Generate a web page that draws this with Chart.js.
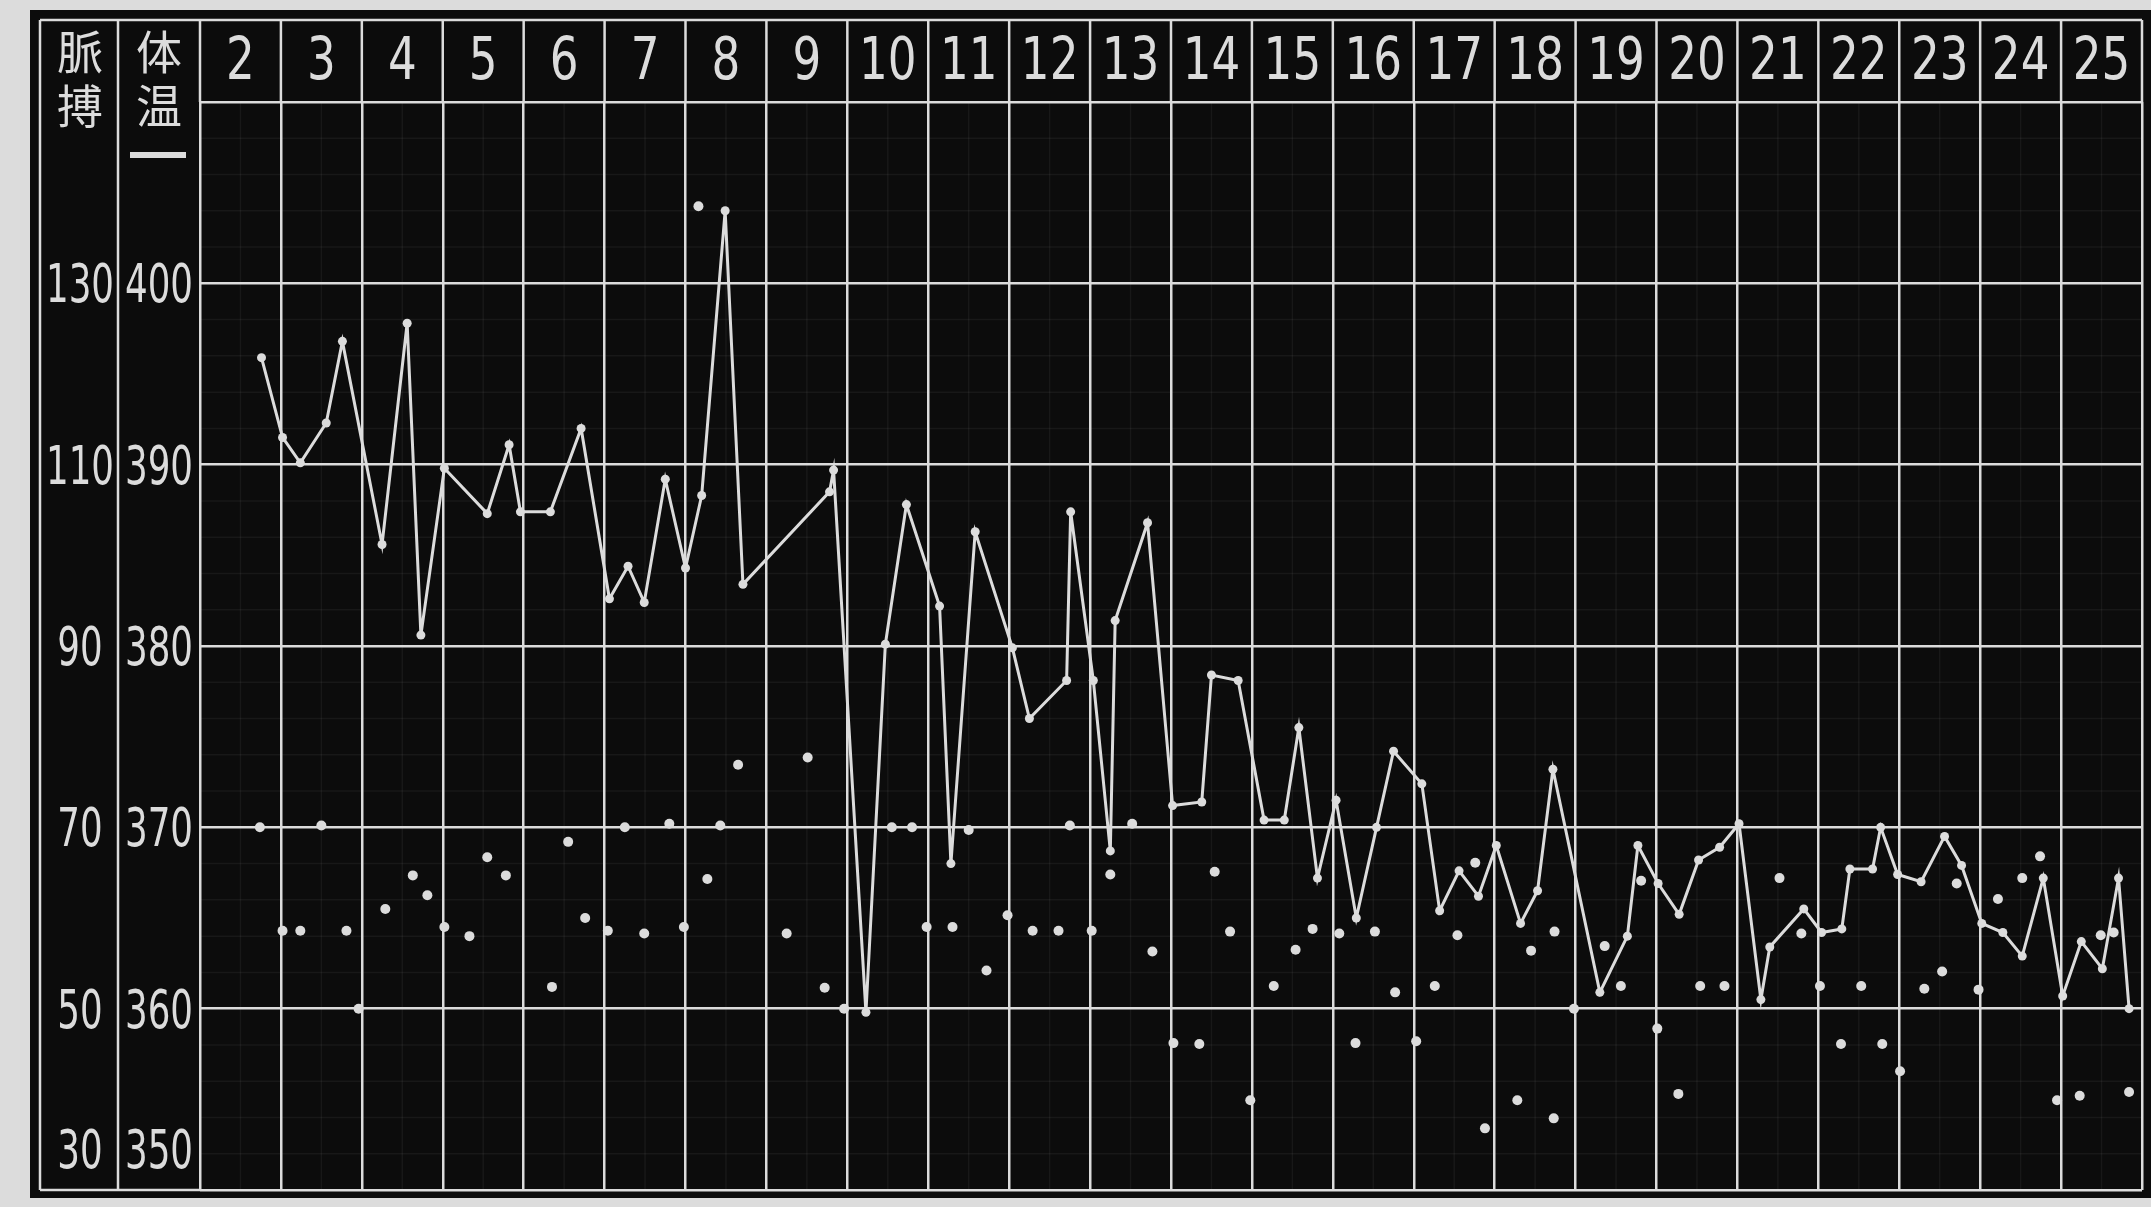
<!DOCTYPE html>
<html>
<head>
<meta charset="utf-8">
<script src="https://cdn.jsdelivr.net/npm/chart.js@4.4.1/dist/chart.umd.min.js"></script>
<style>
  html, body { margin: 0; padding: 0; background: #dcdcdc; }
  #wrap { width: 2151px; height: 1207px; }
</style>
</head>
<body>
<div id="wrap"><canvas id="fever" width="2151" height="1207"></canvas></div>
<script>
// day columns shown in the header
let days = [2, 3, 4, 5, 6, 7, 8, 9, 10, 11, 12, 13, 14, 15, 16, 17, 18, 19, 20, 21, 22, 23, 24, 25];

// left hand scales: pulse and temperature (x10)
let tempTickValues = [40, 39, 38, 37, 36, 35];
let tempTickLabels = ["400", "390", "380", "370", "360", "350"];
let pulseTickLabels = ["130", "110", "90", "70", "50", "30"];

// temperature curve (time in days, degC)
let tempDay = [2.76, 3.02, 3.24, 3.56, 3.76, 4.25, 4.56, 4.73, 5.02, 5.55, 5.82, 5.96, 6.33, 6.71, 7.06, 7.29, 7.49, 7.75, 8.00, 8.20,
  8.49, 8.71, 9.78, 9.83, 10.23, 10.47, 10.73, 11.14, 11.28, 11.58, 12.04, 12.25, 12.71, 12.76, 13.04, 13.25, 13.31, 13.71,
  14.02, 14.38, 14.50, 14.83, 15.15, 15.40, 15.58, 15.81, 16.04, 16.29, 16.54, 16.75, 17.10, 17.32, 17.56, 17.80, 18.02,
  18.32, 18.53, 18.72, 19.30, 19.64, 19.77, 20.02, 20.28, 20.52, 20.78, 21.02, 21.29, 21.40, 21.82, 22.04, 22.29, 22.39,
  22.67, 22.77, 22.98, 23.27, 23.56, 23.77, 24.02, 24.28, 24.52, 24.78, 25.02, 25.25, 25.51, 25.71, 25.84];
let temp = [39.59, 39.15, 39.01, 39.23, 39.68, 38.56, 39.78, 38.06, 38.98, 38.73, 39.11, 38.74, 38.74, 39.20, 38.26, 38.44, 38.24, 38.92, 38.43, 38.83,
  40.40, 38.34, 38.85, 38.97, 35.98, 38.01, 38.78, 38.22, 36.80, 38.63, 37.99, 37.60, 37.81, 38.74, 37.81, 36.87, 38.14, 38.68,
  37.12, 37.14, 37.84, 37.81, 37.04, 37.04, 37.55, 36.72, 37.15, 36.50, 37.00, 37.42, 37.24, 36.54, 36.76, 36.62, 36.90,
  36.47, 36.65, 37.32, 36.09, 36.40, 36.90, 36.69, 36.52, 36.82, 36.89, 37.02, 36.05, 36.34, 36.55, 36.42, 36.44, 36.77,
  36.77, 37.00, 36.74, 36.70, 36.95, 36.79, 36.47, 36.42, 36.29, 36.72, 36.07, 36.37, 36.22, 36.72, 36.00];

// pulse dots (time in days, beats per minute)
let pulseDay = [2.74, 3.02, 3.24, 3.50, 3.81, 3.96, 4.29, 4.63, 4.81, 5.02, 5.33, 5.55, 5.78,
  6.35, 6.55, 6.76, 7.04, 7.25, 7.49, 7.80, 7.98, 8.16, 8.27, 8.43, 8.65, 9.25, 9.51, 9.72,
  9.96, 10.55, 10.80, 10.98, 11.30, 11.50, 11.72, 11.98, 12.29, 12.61, 12.75, 13.02, 13.25, 13.52, 13.77,
  14.03, 14.35, 14.54, 14.73, 14.98, 15.27, 15.54, 15.75, 16.08, 16.28, 16.52, 16.77, 17.03, 17.26, 17.54, 17.76, 17.88,
  18.28, 18.45, 18.73, 18.74, 18.98, 19.36, 19.56, 19.81, 20.01, 20.27, 20.54, 20.84, 21.52, 21.79,
  22.02, 22.28, 22.53, 22.79, 23.01, 23.31, 23.53, 23.71, 23.98, 24.22, 24.52, 24.74, 24.95, 25.23, 25.49, 25.65, 25.84];
let pulse = [70.0, 58.6, 58.6, 70.2, 58.6, 50.0, 61.0, 64.7, 62.5, 59.0, 58.0, 66.7, 64.7,
  52.4, 68.4, 60.0, 58.6, 70.0, 58.3, 70.4, 59.0, 138.5, 64.3, 70.2, 76.9, 58.3, 77.7, 52.3,
  50.0, 70.0, 70.0, 59.0, 59.0, 69.7, 54.2, 60.3, 58.6, 58.6, 70.2, 58.6, 64.8, 70.4, 56.3,
  46.2, 46.1, 65.1, 58.5, 39.9, 52.5, 56.5, 58.8, 58.3, 46.2, 58.5, 51.8, 46.4, 52.5, 58.1, 66.1, 36.8,
  39.9, 56.4, 37.9, 58.5, 50.0, 56.9, 52.5, 64.1, 47.8, 40.6, 52.5, 52.5, 64.4, 58.3,
  52.5, 46.1, 52.5, 46.1, 43.1, 52.2, 54.1, 63.8, 52.1, 62.1, 64.4, 66.8, 39.9, 40.4, 58.1, 58.4, 40.8];

const toPoints = (xs, ys) => xs.map((x, i) => ({x: x, y: ys[i]}));

const ink = "#dcdcdc";
const numFont = "'DejaVu Sans', sans-serif";

// the print uses tall narrow numerals, so squeeze the text sideways
const narrowText = (c, text, x, y, sx) => {
  c.save();
  c.translate(x, y);
  c.scale(sx, 1);
  c.fillText(text, 0, 0);
  c.restore();
};

// black board, table frame, header numbers and the two left scales
const chartFrame = {
  id: "chartFrame",
  beforeDraw(chart) {
    let c = chart.ctx;
    let area = chart.chartArea;
    c.save();
    c.fillStyle = "#dcdcdc";
    c.fillRect(0, 0, chart.width, chart.height);
    c.fillStyle = "#0c0c0c";
    c.fillRect(30, 10, chart.width - 30, 1188);

    // faint printed sub grid
    let xs = chart.scales.x, ys = chart.scales.y;
    c.strokeStyle = "rgba(220,220,220,0.06)";
    c.lineWidth = 1.5;
    days.forEach(d => {
      let px = xs.getPixelForValue(d + 0.5);
      c.beginPath(); c.moveTo(px, area.top); c.lineTo(px, area.bottom); c.stroke();
    });
    for (let t = 35.2; t < 41; t += 0.2) {
      if (Math.abs(t - Math.round(t)) < 0.05) continue;
      let py = ys.getPixelForValue(t);
      c.beginPath(); c.moveTo(area.left, py); c.lineTo(area.right, py); c.stroke();
    }
    c.restore();
  },
  afterDraw(chart) {
    let c = chart.ctx;
    let area = chart.chartArea;
    let xs = chart.scales.x, ys = chart.scales.y;
    let top = 20;
    c.save();
    c.strokeStyle = ink;
    c.lineWidth = 2.5;

    // header row and label columns
    c.beginPath();
    c.moveTo(40, top); c.lineTo(area.right, top);
    c.moveTo(40, area.bottom); c.lineTo(area.left, area.bottom);
    c.moveTo(40, top); c.lineTo(40, area.bottom);
    c.moveTo(118, top); c.lineTo(118, area.bottom);
    days.concat([26]).forEach(d => {
      let px = xs.getPixelForValue(d);
      c.moveTo(px, top); c.lineTo(px, area.top);
    });
    c.stroke();

    c.fillStyle = ink;
    c.textAlign = "center";
    c.textBaseline = "middle";
    c.font = "58px " + numFont;
    days.forEach(d => {
      narrowText(c, String(d), xs.getPixelForValue(d + 0.5), 64, 0.78);
    });

    c.font = "46px 'Noto Sans CJK JP', sans-serif";
    c.fillText("脈", 80, 52);
    c.fillText("搏", 80, 106);
    c.fillText("体", 159, 52);
    c.fillText("温", 159, 106);
    c.fillRect(130, 152, 56, 6);

    c.font = "54px " + numFont;
    tempTickValues.forEach((v, i) => {
      let py = ys.getPixelForValue(v) + 5;
      if (v === 35) py = ys.getPixelForValue(v) - 36;
      narrowText(c, pulseTickLabels[i], 80, py, 0.66);
      narrowText(c, tempTickLabels[i], 159, py, 0.66);
    });
    c.restore();
  }
};

let ctx = document.getElementById("fever");
let feverChart = new Chart(ctx, {
  type: "line",
  data: {
    datasets: [
      {
        label: "体温",
        data: toPoints(tempDay, temp),
        yAxisID: "y",
        borderColor: ink,
        borderWidth: 3,
        pointRadius: 4.5,
        pointBackgroundColor: ink,
        pointBorderWidth: 0,
        tension: 0
      },
      {
        label: "脈搏",
        type: "scatter",
        data: toPoints(pulseDay, pulse),
        yAxisID: "yP",
        pointRadius: 5,
        pointBackgroundColor: ink,
        pointBorderWidth: 0,
        showLine: false
      }
    ]
  },
  options: {
    responsive: false,
    animation: false,
    devicePixelRatio: 1,
    layout: { padding: { left: 200, top: 102, right: 9, bottom: 17 } },
    plugins: { legend: { display: false }, tooltip: { enabled: false } },
    scales: {
      x: {
        type: "linear", min: 2, max: 26,
        ticks: { display: false, stepSize: 1 },
        grid: { color: ink, lineWidth: 2.5, drawTicks: false },
        border: { display: false }
      },
      y: {
        min: 35, max: 41,
        ticks: { display: false, stepSize: 1 },
        grid: { color: ink, lineWidth: 2.5, drawTicks: false },
        border: { display: false }
      },
      yP: { min: 30, max: 150, display: false }
    }
  },
  plugins: [chartFrame]
});
</script>
</body>
</html>
